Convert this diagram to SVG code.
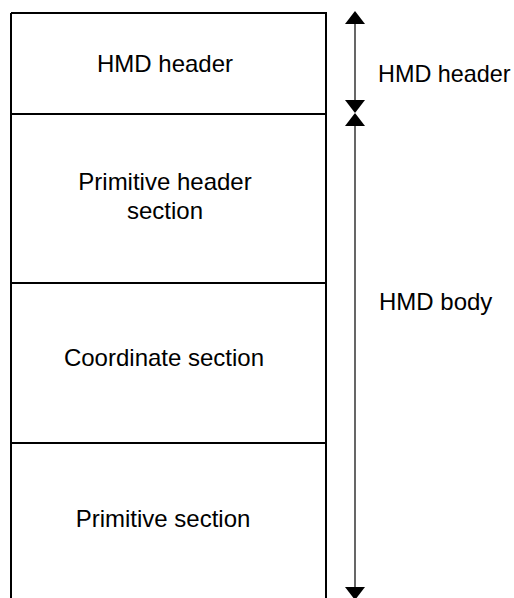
<svg xmlns="http://www.w3.org/2000/svg" width="514" height="598" viewBox="0 0 514 598">
<style>
.box{fill:none;stroke:#000;stroke-width:2}
.ln{stroke:#000;stroke-width:1.2;fill:none}
.ah{fill:#000}
text{font-family:"Liberation Sans",Arial,sans-serif;font-size:24px;fill:#000}
.c{text-anchor:middle}
.r{font-size:23.4px}
</style>
<rect width="514" height="598" fill="#fff"/>
<g id="hmd-header">
<path class="box" d="M11,13 H326 V114 M11,13 V114"/>
<text class="c" x="165" y="72">HMD header</text>
</g>
<g id="primitive-header-section">
<path class="box" d="M11,114 H327 M11,114 V283 M326,114 V283"/>
<text class="c" x="165" y="190">Primitive header</text>
<text class="c" x="165" y="219">section</text>
</g>
<g id="coordinate-section">
<path class="box" d="M11,283 H327 M11,283 V443 M326,283 V443"/>
<text class="c" x="164" y="366">Coordinate section</text>
</g>
<g id="primitive-section">
<path class="box" d="M11,443 H327 M11,443 V600 M326,443 V600"/>
<text class="c" x="163" y="527">Primitive section</text>
</g>
<g id="connectors">
<line class="ln" x1="355" y1="20" x2="355" y2="106"/>
<polygon class="ah" points="355,11 345,24 365,24"/>
<polygon class="ah" points="355,113 345,100 365,100"/>
<line class="ln" x1="355" y1="120" x2="355" y2="592"/>
<polygon class="ah" points="355,113 345,126 365,126"/>
<polygon class="ah" points="355,600 345,587 365,587"/>
</g>
<g id="labels">
<text class="r" x="378" y="82">HMD header</text>
<text x="379" y="310">HMD body</text>
</g>
</svg>
